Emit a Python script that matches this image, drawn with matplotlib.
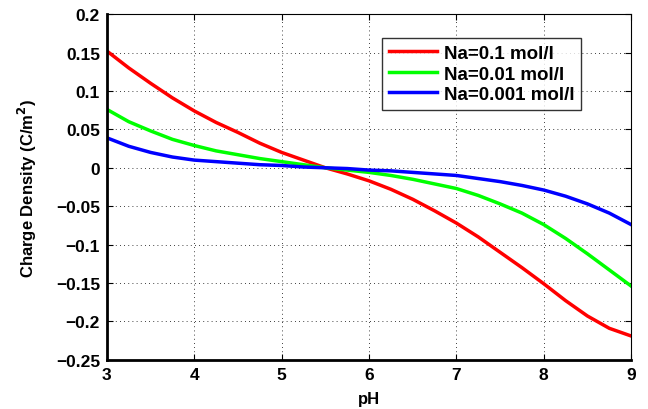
import matplotlib.pyplot as plt

# ============================================================
# DADOS
# ============================================================

ph = [3.0, 3.25, 3.5, 3.75, 4.0, 4.25, 4.5, 4.75, 5.0, 5.25, 5.5, 5.75, 6.0,
      6.25, 6.5, 6.75, 7.0, 7.25, 7.5, 7.75, 8.0, 8.25, 8.5, 8.75, 9.0]

na_01 = [0.152, 0.130, 0.110, 0.091, 0.074, 0.059, 0.046, 0.032, 0.020, 0.010,
         0.000, -0.008, -0.017, -0.028, -0.041, -0.056, -0.072, -0.090, -0.110,
         -0.130, -0.151, -0.173, -0.193, -0.209, -0.219]

na_001 = [0.076, 0.060, 0.048, 0.037, 0.029, 0.022, 0.017, 0.012, 0.008, 0.004,
          0.000, -0.003, -0.006, -0.010, -0.015, -0.021, -0.027, -0.036, -0.047,
          -0.059, -0.074, -0.092, -0.112, -0.133, -0.154]

na_0001 = [0.039, 0.028, 0.020, 0.014, 0.010, 0.008, 0.006, 0.004, 0.003, 0.001,
           0.000, -0.001, -0.003, -0.004, -0.006, -0.008, -0.010, -0.014, -0.018,
           -0.023, -0.029, -0.037, -0.047, -0.059, -0.074]

labels = ["Na=0.1 mol/l", "Na=0.01 mol/l", "Na=0.001 mol/l"]

x_ticks = [3, 4, 5, 6, 7, 8, 9]
y_ticks = [-0.25, -0.2, -0.15, -0.1, -0.05, 0, 0.05, 0.1, 0.15, 0.2]
y_tick_labels = ["\u22120.25", "\u22120.2", "\u22120.15", "\u22120.1", "\u22120.05",
                 "0", "0.05", "0.1", "0.15", "0.2"]

# ============================================================
# GRÁFICO
# ============================================================

plt.rcParams["font.family"] = ["Liberation Sans", "DejaVu Sans"]
plt.rcParams["font.weight"] = "bold"

fig = plt.figure(figsize=(6.48, 4.10), dpi=100)
ax = fig.add_axes([0.165, 0.12, 0.809, 0.843])

ax.plot(ph, na_01, color="#ff0000", linewidth=2.5, label=labels[0])
ax.plot(ph, na_001, color="#00ff00", linewidth=2.5, label=labels[1])
ax.plot(ph, na_0001, color="#0000ff", linewidth=2.5, label=labels[2])

ax.set_xlim(3, 9)
ax.set_ylim(-0.25, 0.2)

ax.set_xticks(x_ticks)
ax.set_yticks(y_ticks)
ax.set_yticklabels(y_tick_labels)

ax.tick_params(
    direction="in",
    top=True,
    right=True,
    labelsize=12.5,
    length=4,
    width=0.8,
    pad=5
)

for label in ax.get_xticklabels() + ax.get_yticklabels():
    label.set_fontweight("bold")

ax.grid(True, color="black", linestyle=(0, (1, 4)), linewidth=0.6)

for lado in ["bottom", "left"]:
    ax.spines[lado].set_linewidth(2.0)
for lado in ["top", "right"]:
    ax.spines[lado].set_linewidth(0.8)

ax.set_xlabel("pH", fontsize=12, fontweight="bold", labelpad=7)
ax.set_ylabel("Charge Density (C/m$^\\mathbf{2}$)", fontsize=12,
              fontweight="bold", labelpad=12)

legenda = ax.legend(
    loc="upper left",
    bbox_to_anchor=(0.525, 0.93),
    fontsize=13.5,
    frameon=True,
    fancybox=False,
    handlelength=2.6,
    borderpad=0.35,
    labelspacing=0.18,
    handletextpad=0.35,
    borderaxespad=0
)
legenda.get_frame().set_edgecolor("black")
legenda.get_frame().set_linewidth(1.0)
for texto in legenda.get_texts():
    texto.set_fontweight("bold")

plt.savefig("out.png", dpi=100)
plt.close()
